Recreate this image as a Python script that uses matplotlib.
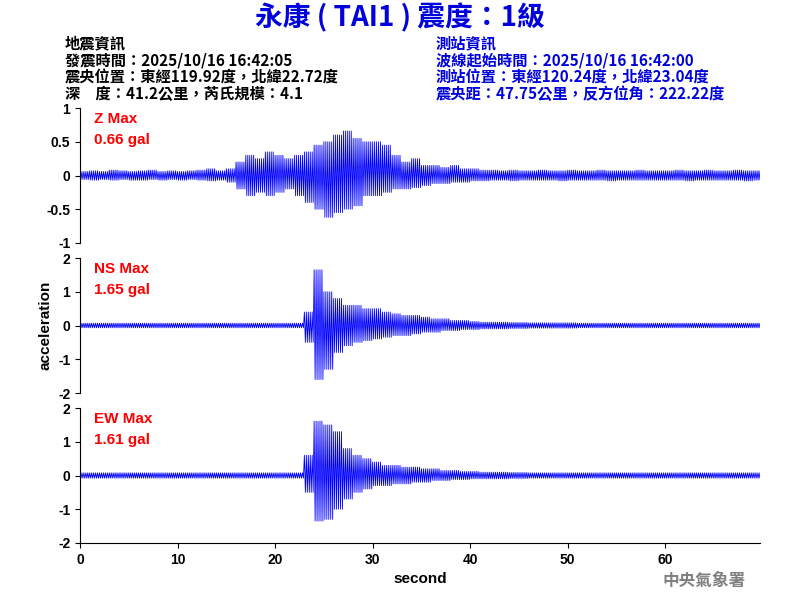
import numpy as np
import matplotlib
matplotlib.use("Agg")
import matplotlib.pyplot as plt

plt.rcParams['font.family'] = ['Noto Sans CJK TC', 'DejaVu Sans']

# per-second peak envelope (t = 0..69 s)
z_up = [0.06,0.07,0.06,0.08,0.07,0.06,0.07,0.08,0.06,0.07,0.06,0.07,0.08,0.1,0.07,0.1,0.2,0.3,0.25,0.35,
        0.3,0.25,0.3,0.35,0.45,0.5,0.6,0.66,0.55,0.5,0.5,0.45,0.3,0.2,0.25,0.15,0.15,0.12,0.15,0.1,
        0.1,0.08,0.08,0.07,0.08,0.07,0.07,0.08,0.07,0.07,0.08,0.07,0.07,0.08,0.07,0.07,0.07,0.08,0.07,0.07,
        0.07,0.08,0.07,0.07,0.08,0.07,0.07,0.08,0.07,0.07]
z_lo = [-0.06,-0.07,-0.06,-0.07,-0.06,-0.07,-0.07,-0.06,-0.07,-0.06,-0.07,-0.06,-0.07,-0.08,-0.07,-0.1,-0.2,-0.3,-0.25,-0.3,
        -0.25,-0.2,-0.3,-0.4,-0.5,-0.62,-0.55,-0.5,-0.45,-0.3,-0.3,-0.25,-0.2,-0.2,-0.18,-0.15,-0.12,-0.12,-0.1,-0.1,
        -0.08,-0.08,-0.07,-0.07,-0.08,-0.07,-0.07,-0.07,-0.07,-0.08,-0.07,-0.07,-0.07,-0.07,-0.08,-0.07,-0.07,-0.07,-0.07,-0.07,
        -0.07,-0.07,-0.08,-0.07,-0.07,-0.07,-0.07,-0.07,-0.08,-0.07]
ns_up = ([0.07]*23 + [0.4,1.65,1.0,0.8,0.6,0.6,0.5,0.5,0.4,0.35,0.3,0.3,0.25,0.2,0.2,0.15,0.15,0.12]
         + [0.1,0.1,0.1,0.09,0.09] + [0.08]*5 + [0.07]*19)
ns_lo = ([-0.07]*23 + [-0.5,-1.6,-1.3,-0.8,-0.6,-0.5,-0.45,-0.4,-0.35,-0.3,-0.3,-0.25,-0.2,-0.2,-0.15,-0.15,-0.12,-0.12]
         + [-0.1,-0.1,-0.1,-0.09,-0.09] + [-0.08]*5 + [-0.07]*19)
ew_up = ([0.08]*23 + [0.6,1.61,1.5,1.3,0.8,0.6,0.5,0.4,0.3,0.3,0.25,0.25,0.2,0.2,0.15,0.15,0.12,0.12]
         + [0.1,0.1,0.1,0.09,0.09] + [0.08]*24)
ew_lo = ([-0.08]*23 + [-0.5,-1.35,-1.3,-1.0,-0.7,-0.5,-0.4,-0.3,-0.3,-0.25,-0.25,-0.2,-0.2,-0.15,-0.15,-0.12,-0.12,-0.1]
         + [-0.1,-0.1,-0.1,-0.09,-0.09] + [-0.08]*24)

channels = ["Z", "NS", "EW"]
max_vals = ["0.66", "1.65", "1.61"]
ylims = [1, 2, 2]
envs = [(z_up, z_lo), (ns_up, ns_lo), (ew_up, ew_lo)]

def trace(up, lo, sub=10):
    up = np.repeat(np.array(up), sub)
    lo = np.repeat(np.array(lo), sub)
    y = np.where(np.arange(len(up)) % 2 == 0, up, lo)
    t = np.arange(len(up)) / sub
    return t, y

LAT = 'Liberation Sans'
fig = plt.figure(figsize=(8, 6), dpi=100)
bottoms = [0.595, 0.345, 0.095]
for i, (ch, mv, yl, (u, l)) in enumerate(zip(channels, max_vals, ylims, envs)):
    ax = fig.add_axes([0.1, bottoms[i], 0.85, 0.225])
    t, y = trace(u, l)
    ax.plot(t, y, color='blue', lw=0.6)
    ax.set_xlim(0, 69.7)
    ax.set_ylim(-yl, yl)
    if yl == 1:
        ax.set_yticks([-1, -0.5, 0, 0.5, 1])
        ax.set_yticklabels(['-1', '-0.5', '0', '0.5', '1'])
    else:
        ax.set_yticks([-2, -1, 0, 1, 2])
        ax.set_yticklabels(['-2', '-1', '0', '1', '2'])
    for s in ['top', 'right']:
        ax.spines[s].set_visible(False)
    if i < 2:
        ax.spines['bottom'].set_visible(False)
        ax.set_xticks([])
    else:
        ax.set_xticks(range(0, 70, 10))
        ax.set_xlabel('second', fontsize=11, family=LAT, fontweight='bold')
    ax.tick_params(labelsize=10)
    for lab in ax.get_yticklabels() + ax.get_xticklabels():
        lab.set_family(LAT)
        lab.set_fontweight('bold')
    ax.text(0.02, 0.97, f"{ch} Max\n{mv} gal", transform=ax.transAxes, color='red',
            fontsize=11, va='top', family=LAT, fontweight='bold', linespacing=1.6)
    if i == 1:
        ax.set_ylabel('acceleration', fontsize=11, family=LAT, fontweight='bold')

fig.text(0.5, 0.97, "永康 ( TAI1 ) 震度：1級", color='#0000dd', fontsize=20, fontweight='bold',
         ha='center', va='center')
left_lines = ["地震資訊", "發震時間：2025/10/16 16:42:05", "震央位置：東經119.92度，北緯22.72度",
              "深　度：41.2公里，芮氏規模：4.1"]
right_lines = ["測站資訊", "波線起始時間：2025/10/16 16:42:00", "測站位置：東經120.24度，北緯23.04度",
               "震央距：47.75公里，反方位角：222.22度"]
for k, (a, b) in enumerate(zip(left_lines, right_lines)):
    yy = 0.928 - k * 0.0285
    fig.text(0.081, yy, a, color='black', fontsize=11, fontweight='bold', va='center')
    fig.text(0.545, yy, b, color='#0000dd', fontsize=11, fontweight='bold', va='center')
fig.text(0.932, 0.032, "中央氣象署", color='gray', fontsize=12, fontweight='bold', ha='right', va='center')

fig.savefig('out.png', dpi=100)
